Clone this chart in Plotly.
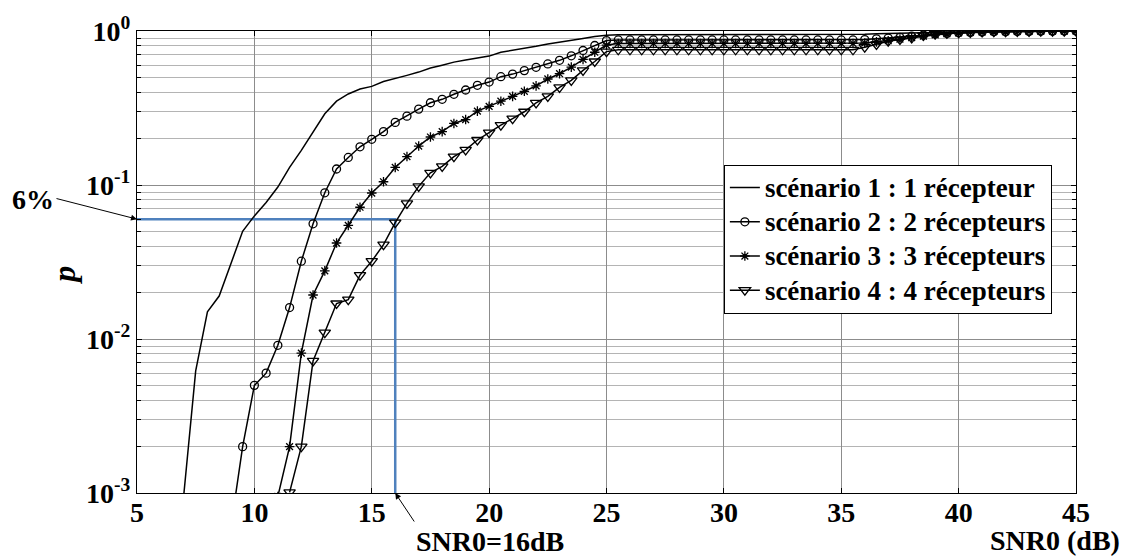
import numpy as np
import plotly.graph_objects as go

# ---- data ----
snr0 = np.arange(5.0, 45.5, 0.5)  # dB, 81 points

scen1 = [None, None, None, 0.0002, 0.001, 0.0062, 0.015, 0.019, 0.031, 0.05,
         0.063, 0.077, 0.097, 0.13, 0.168, 0.222, 0.29, 0.35, 0.39, 0.42,
         0.437, 0.47, 0.49, 0.515, 0.541, 0.575, 0.60, 0.628, 0.648, 0.668,
         0.687, 0.728, 0.748, 0.77, 0.795, 0.824, 0.85, 0.872, 0.895, 0.92,
         0.94,
         0.945, 0.945, 0.945, 0.945, 0.945, 0.945, 0.945, 0.945, 0.945, 0.945,
         0.945, 0.945, 0.945, 0.945, 0.945, 0.945, 0.945, 0.945, 0.945, 0.945,
         0.948, 0.952, 0.958, 0.963, 0.968, 0.972, 0.976, 0.98, 0.984, 0.987,
         0.99, 0.992, 0.994, 0.995, 0.996, 0.997, 0.998, 0.999, 0.999, 1.0]

scen2 = [None, None, None, None, None, None, None, None,
         0.0006, 0.002, 0.005, 0.006, 0.0091, 0.016, 0.032, 0.056, 0.089, 0.127,
         0.151, 0.177, 0.198, 0.222, 0.255, 0.28, 0.311, 0.342, 0.36, 0.388,
         0.414, 0.444, 0.466, 0.505, 0.525, 0.553, 0.581, 0.611, 0.645, 0.69,
         0.747, 0.805, 0.867,
         0.875, 0.875, 0.875, 0.875, 0.875, 0.875, 0.875, 0.875, 0.875, 0.875,
         0.875, 0.875, 0.875, 0.875, 0.875, 0.875, 0.875, 0.875, 0.875, 0.875,
         0.875,
         0.88, 0.89, 0.90, 0.91, 0.925, 0.94, 0.955, 0.965, 0.975, 0.98,
         0.985, 0.99, 0.99, 0.993, 0.995, 0.997, 0.998, 0.999, 1.0]

scen3 = [None, None, None, None, None, None, None, None, None, None, None,
         0.0002, 0.00095, 0.002, 0.0081, 0.0193, 0.0277, 0.042, 0.0546, 0.0717,
         0.0887, 0.105, 0.13, 0.153, 0.179, 0.205, 0.222, 0.251, 0.266, 0.302,
         0.324, 0.35, 0.376, 0.406, 0.44, 0.488, 0.528, 0.583, 0.654, 0.728,
         0.81,
         0.83, 0.83, 0.83, 0.83, 0.83, 0.83, 0.83, 0.83, 0.83, 0.83,
         0.83, 0.83, 0.83, 0.83, 0.83, 0.83, 0.83, 0.83, 0.83, 0.83,
         0.83,
         0.835, 0.85, 0.865, 0.885, 0.905, 0.925, 0.945, 0.96, 0.972, 0.98,
         0.985, 0.99, 0.99, 0.993, 0.995, 0.997, 0.998, 0.999, 1.0]

scen4 = [None, None, None, None, None, None, None, None, None, None, None,
         None, None,
         0.00101, 0.002, 0.0072, 0.011, 0.017, 0.018, 0.026, 0.032, 0.041,
         0.057, 0.076, 0.098, 0.12, 0.132, 0.153, 0.169, 0.196, 0.219, 0.245,
         0.27, 0.299, 0.341, 0.376, 0.43, 0.478, 0.555, 0.634, 0.735,
         0.755, 0.755, 0.755, 0.755, 0.755, 0.755, 0.755, 0.755, 0.755, 0.755,
         0.755, 0.755, 0.755, 0.755, 0.755, 0.755, 0.755, 0.755, 0.755, 0.755,
         0.755,
         0.785, 0.817, 0.858, 0.88, 0.90, 0.935, 0.958, 0.968, 0.975, 0.98,
         0.985, 0.99, 0.99, 0.993, 0.995, 0.997, 0.998, 0.999, 1.0]

names = ["scénario 1 : 1 récepteur", "scénario 2 : 2 récepteurs",
         "scénario 3 : 3 récepteurs", "scénario 4 : 4 récepteurs"]

# threshold guide (6% at SNR0 = 16 dB)
guide_x = [5, 16, 16]
guide_y = [0.06, 0.06, 0.001]

ytick_vals = [0.001, 0.01, 0.1, 1]
ytick_text = ["10<sup>-3</sup>", "10<sup>-2</sup>", "10<sup>-1</sup>", "10<sup>0</sup>"]
yminor_vals = [m * d for d in (0.001, 0.01, 0.1) for m in range(2, 10)]
xtick_vals = [5, 10, 15, 20, 25, 30, 35, 40, 45]

SERIF = "Liberation Serif"

fig = go.Figure()

fig.add_trace(go.Scatter(x=guide_x, y=guide_y, mode="lines",
                         line=dict(color="#4F81BD", width=2.5),
                         showlegend=False, hoverinfo="skip"))

styles = [
    dict(mode="lines", marker=None),
    dict(mode="lines+markers", marker=dict(symbol="circle-open", size=8, color="black",
                                           line=dict(width=1.3))),
    dict(mode="lines+markers", marker=dict(symbol="asterisk-open", size=8, color="black",
                                           line=dict(width=1.3))),
    dict(mode="lines+markers", marker=dict(symbol="triangle-down-open", size=10, color="black",
                                           line=dict(width=1.3))),
]
for nm, ys, st in zip(names, [scen1, scen2, scen3, scen4], styles):
    kw = dict(x=snr0, y=ys, name='<span style="font-size:27px">' + nm + '</span>',
              mode=st["mode"], line=dict(color="black", width=1.5), connectgaps=False)
    if st["marker"] is not None:
        kw["marker"] = st["marker"]
    fig.add_trace(go.Scatter(**kw))

fig.update_layout(
    width=1134, height=557,
    margin=dict(l=137, r=58, t=29, b=64),
    paper_bgcolor="white", plot_bgcolor="white",
    showlegend=True,
    legend=dict(x=0.625, y=0.711, xanchor="left", yanchor="top",
                bgcolor="white", bordercolor="black", borderwidth=1,
                font=dict(family=SERIF, size=24, color="black", weight="bold"),
                itemwidth=30, tracegroupgap=0),
    xaxis=dict(range=[5, 45], tickmode="array", tickvals=xtick_vals,
               showgrid=True, gridcolor="#8c8c8c", gridwidth=1,
               showline=True, linecolor="black", linewidth=1, mirror="allticks",
               ticks="inside", ticklen=5, tickcolor="black", ticklabelstandoff=-6,
               tickfont=dict(family=SERIF, size=28, color="black", weight="bold"),
               zeroline=False),
    yaxis=dict(type="log", range=[-3, 0], tickmode="array",
               tickvals=ytick_vals, ticktext=ytick_text,
               showgrid=True, gridcolor="#8c8c8c", gridwidth=1,
               showline=True, linecolor="black", linewidth=1, mirror="allticks",
               ticks="inside", ticklen=5, tickcolor="black",
               tickfont=dict(family=SERIF, size=28, color="black", weight="bold"),
               minor=dict(tickmode="array", tickvals=yminor_vals, showgrid=True,
                          gridcolor="#b4b4b4", gridwidth=1, ticks="inside",
                          ticklen=4, tickcolor="black"),
               zeroline=False),
)

ann_font = dict(family=SERIF, size=28, color="black", weight="bold")
fig.add_annotation(text="SNR0 (dB)", xref="paper", yref="paper",
                   x=0.978, y=-0.103, xanchor="center", yanchor="middle",
                   showarrow=False, font=ann_font)
fig.add_annotation(text="SNR0=16dB", xref="paper", yref="paper",
                   x=0.376, y=-0.106, xanchor="center", yanchor="middle",
                   showarrow=False, font=ann_font)
fig.add_annotation(text="6%", xref="paper", yref="paper",
                   x=-0.111, y=0.635, xanchor="center", yanchor="middle",
                   showarrow=False, font=ann_font)
fig.add_annotation(text="<i>p</i>", xref="paper", yref="paper",
                   x=-0.078, y=0.472, xanchor="center", yanchor="middle",
                   textangle=-90, showarrow=False,
                   font=dict(family=SERIF, size=32, color="black", weight="bold"))
# arrows
fig.add_annotation(text="", x=16, y=np.log10(0.001), xref="x", yref="y",
                   ax=20, ay=30, showarrow=True, arrowhead=2, arrowsize=1.2,
                   arrowwidth=1, arrowcolor="black")
fig.add_annotation(text="", x=5, y=np.log10(0.06), xref="x", yref="y",
                   ax=-82, ay=-21, showarrow=True, arrowhead=2, arrowsize=1.2,
                   arrowwidth=1, arrowcolor="black")

fig.write_html("out.html", config={"displayModeBar": False},
               post_script="document.body.style.margin='0px';document.body.style.overflow='hidden';")
